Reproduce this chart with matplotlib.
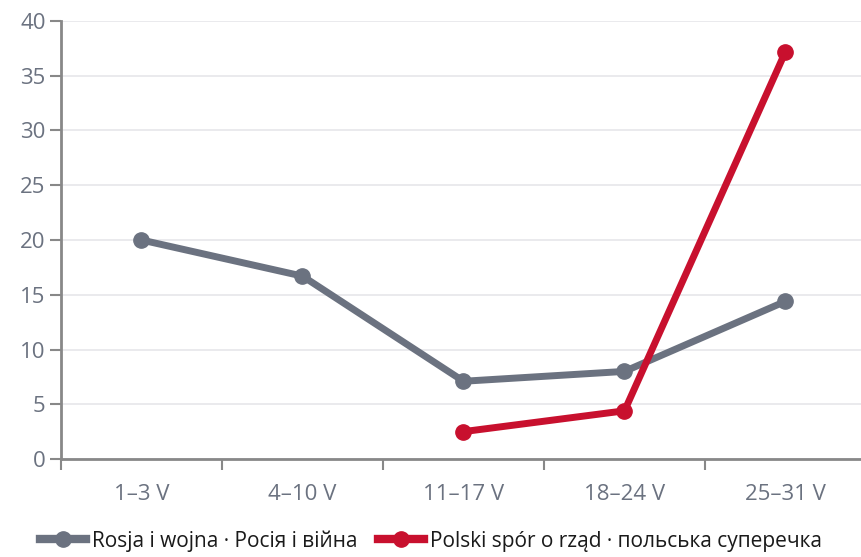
import numpy as np
import matplotlib
matplotlib.use("Agg")
import matplotlib.pyplot as plt

categories = ["1–3 V", "4–10 V", "11–17 V", "18–24 V", "25–31 V"]
rosja = [20.0, 16.7, 7.1, 8.0, 14.4]
polska = [np.nan, np.nan, 2.5, 4.4, 37.2]
label_rosja = "Rosja i wojna · Росія і війна"
label_polska = "Polski spór o rząd · польська суперечка"

plt.rcParams['font.family'] = ['Open Sans', 'DejaVu Sans']
txt = "#6b7280"
gray = "#6b7280"
red = "#c8102e"

fig = plt.figure(figsize=(8.62, 5.57), dpi=100)
ax = fig.add_axes([61/862, 98/557, 805/862, 438/557])
x = np.arange(len(categories))
ax.plot(x, rosja, color=gray, lw=5, marker="o", ms=11, label=label_rosja)
ax.plot(x, polska, color=red, lw=5, marker="o", ms=11, label=label_polska)

ax.set_xlim(-0.5, 4.5)
ax.set_ylim(0, 40)
ax.set_yticks(range(0, 41, 5))
ax.set_xticks(np.arange(-0.5, 5, 1), minor=False)
ax.set_xticklabels([])
ax.set_xticks(x, minor=True)
ax.set_xticklabels(categories, minor=True)
ax.tick_params(axis="x", which="minor", length=0, pad=18, labelsize=16, labelcolor=txt)
ax.tick_params(axis="x", which="major", length=8, width=1.5, color="#888888", direction="out")
ax.tick_params(axis="y", length=8, width=1.5, color="#888888", labelsize=16, labelcolor=txt, pad=3)
ax.grid(axis="y", color="#e6e6ea", lw=1.2)
ax.set_axisbelow(True)
for s in ["top", "right"]:
    ax.spines[s].set_visible(False)
ax.spines["left"].set_color("#888888")
ax.spines["left"].set_linewidth(2)
ax.spines["bottom"].set_color("#888888")
ax.spines["bottom"].set_linewidth(2)

leg = fig.legend(loc="center", bbox_to_anchor=(0.5, 16/557), ncol=2, frameon=False,
                 fontsize=15, handlelength=2.2, columnspacing=1.0, handletextpad=0.3,
                 labelcolor="#1a1a1a")
for h in leg.legend_handles:
    h.set_linewidth(6)
fig.savefig("out.png", dpi=100)
